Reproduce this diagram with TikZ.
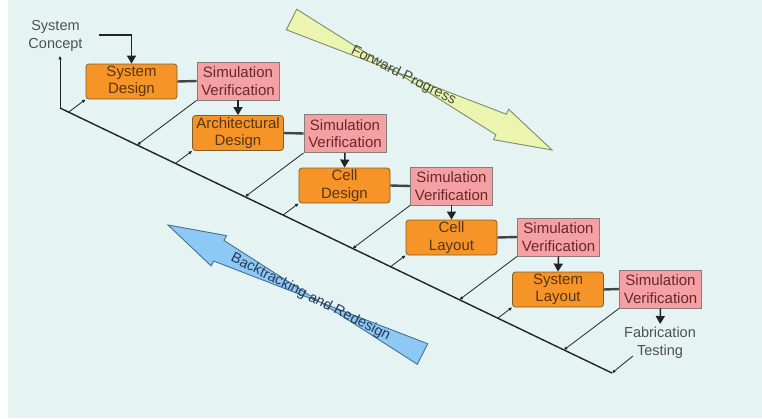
\documentclass[tikz,border=0pt]{standalone}
\usepackage{fontspec}
\setmainfont{Liberation Sans}
\usetikzlibrary{arrows.meta,calc}

\definecolor{bg}{RGB}{229,243,243}
\definecolor{orangebox}{RGB}{247,148,40}
\definecolor{orangeedge}{RGB}{130,95,35}
\definecolor{pinkbox}{RGB}{245,160,162}
\definecolor{pinkedge}{RGB}{135,125,125}
\definecolor{designtext}{RGB}{85,55,20}
\definecolor{simtext}{RGB}{105,40,45}
\definecolor{labeltext}{RGB}{80,80,80}
\definecolor{fwdfill}{RGB}{236,245,176}
\definecolor{fwdedge}{RGB}{125,140,105}
\definecolor{fwdtext}{RGB}{70,75,60}
\definecolor{backfill}{RGB}{142,200,245}
\definecolor{backedge}{RGB}{70,115,140}
\definecolor{backtext}{RGB}{40,55,90}
\definecolor{ink}{RGB}{35,35,35}

\tikzset{
  boxfont/.style={font=\fontsize{15}{17.5}\selectfont},
  design/.style={boxfont, draw=orangeedge, line width=0.8pt, fill=orangebox,
    rounded corners=3pt, minimum width=91pt, minimum height=35pt,
    inner sep=0pt, align=center, text=designtext},
  simver/.style={boxfont, draw=pinkedge, line width=0.8pt, fill=pinkbox,
    minimum width=82pt, minimum height=38pt, inner sep=0pt, align=center,
    text=simtext},
  label/.style={font=\fontsize{14.5}{18}\selectfont, text=labeltext,
    align=center, inner sep=0pt},
  link/.style={line width=2.4pt, draw=ink!85},
  flow/.style={line width=1.5pt, draw=ink, -{Triangle[length=8pt,width=9pt]}},
  spine/.style={line width=1.4pt, draw=ink},
  feedback/.style={line width=0.8pt, draw=ink, -{Latex[length=3.5pt,width=3.5pt]}},
  fwdarrow/.style={fill=fwdfill, draw=fwdedge, line width=0.9pt, line join=miter},
  backarrow/.style={fill=backfill, draw=backedge, line width=0.9pt, line join=miter},
  arrowtext/.style={font=\fontsize{14.5}{17}\selectfont, inner sep=0pt},
}

\begin{document}
\begin{tikzpicture}[x=1pt,y=-1pt]
  % canvas with a white margin strip on the left
  \fill[white] (0,0) rectangle (762,418);
  \fill[bg] (8,0) rectangle (762,418);
  \useasboundingbox (0,0) rectangle (762,418);

  % ---- large "Forward Progress" arrow ----
  \coordinate (fT) at (291.5,19.5);
  \coordinate (fP) at (552,150);
  \coordinate (fB) at ($(fP)!57pt!(fT)$);
  \draw[fwdarrow]
    ($(fT)!11.5pt!90:(fP)$) -- ($(fB)!11.5pt!-90:(fP)$) -- ($(fB)!17pt!-90:(fP)$)
    -- (fP) -- ($(fB)!17pt!90:(fP)$) -- ($(fB)!11.5pt!90:(fP)$)
    -- ($(fT)!11.5pt!-90:(fP)$) -- cycle;
  \path (fT) -- (fP) node[arrowtext, text=fwdtext, sloped, pos=0.43] (fwdlabel) {Forward Progress};

  % ---- large "Backtracking and Redesign" arrow ----
  \coordinate (bP) at (168,225);
  \coordinate (bT) at (422.5,354);
  \coordinate (bB) at ($(bP)!57pt!(bT)$);
  \draw[backarrow]
    ($(bT)!11.5pt!90:(bP)$) -- ($(bB)!11.5pt!-90:(bP)$) -- ($(bB)!17pt!-90:(bP)$)
    -- (bP) -- ($(bB)!17pt!90:(bP)$) -- ($(bB)!11.5pt!90:(bP)$)
    -- ($(bT)!11.5pt!-90:(bP)$) -- cycle;
  \path (bP) -- (bT) node[arrowtext, text=backtext, sloped, pos=0.56] (backlabel) {Backtracking and Redesign};

  % ---- design stages and their verification steps ----
  \node[design] (d1) at (131.5,81.5) {System\\Design};
  \node[simver] (s1) at (238,81)     {Simulation\\Verification};
  \node[design] (d2) at (238,133)    {Architectural\\Design};
  \node[simver] (s2) at (345,133.5)  {Simulation\\Verification};
  \node[design] (d3) at (344.5,185.5){Cell\\Design};
  \node[simver] (s3) at (451.5,186)  {Simulation\\Verification};
  \node[design] (d4) at (451.5,237.5){Cell\\Layout};
  \node[simver] (s4) at (558.5,237)  {Simulation\\Verification};
  \node[design] (d5) at (558,289.5)  {System\\Layout};
  \node[simver] (s5) at (660.5,289)  {Simulation\\Verification};

  \node[label] (concept) at (55.5,36) {System\\Concept};
  \node[label] (fab) at (660,343) {Fabrication\\Testing};

  % ---- forward flow ----
  \coordinate (conceptout) at (99,35);
  \draw[flow] (conceptout) -| (d1.north);
  \foreach \d/\s in {d1/s1,d2/s2,d3/s3,d4/s4,d5/s5}
    \draw[link] (\d.east) -- (\s.west);
  \foreach \s/\d in {s1/d2,s2/d3,s3/d4,s4/d5}
    \draw[flow] (\s.south) -- (\d.north);
  \draw[flow, shorten >=3pt] (s5.south) -- (fab.north);

  % ---- backtracking spine ----
  \coordinate (spineA) at (60,108);
  \coordinate (spineB) at (612,373);
  \draw[spine] (spineA) -- (spineB);
  \draw[feedback, line width=1pt] (spineA) -- ([yshift=-4pt]spineA |- concept.south);
  \draw[feedback] ([xshift=-27pt,yshift=3pt]fab.south) -- (spineB);

  % spine back into each design stage
  \foreach \n in {d1,d2,d3,d4,d5} {
    \coordinate (\n-dir) at ($(\n.south west)+(-20,15)$);
    \draw[feedback] (intersection of spineA--spineB and \n.south west--\n-dir)
      -- (\n.south west);
  }
  % each verification step back onto the spine
  \foreach \n in {s1,s2,s3,s4,s5} {
    \coordinate (\n-dir) at ($(\n.south west)+(-20,15)$);
    \draw[feedback] (\n.south west)
      -- (intersection of spineA--spineB and \n.south west--\n-dir);
  }
\end{tikzpicture}
\end{document}
